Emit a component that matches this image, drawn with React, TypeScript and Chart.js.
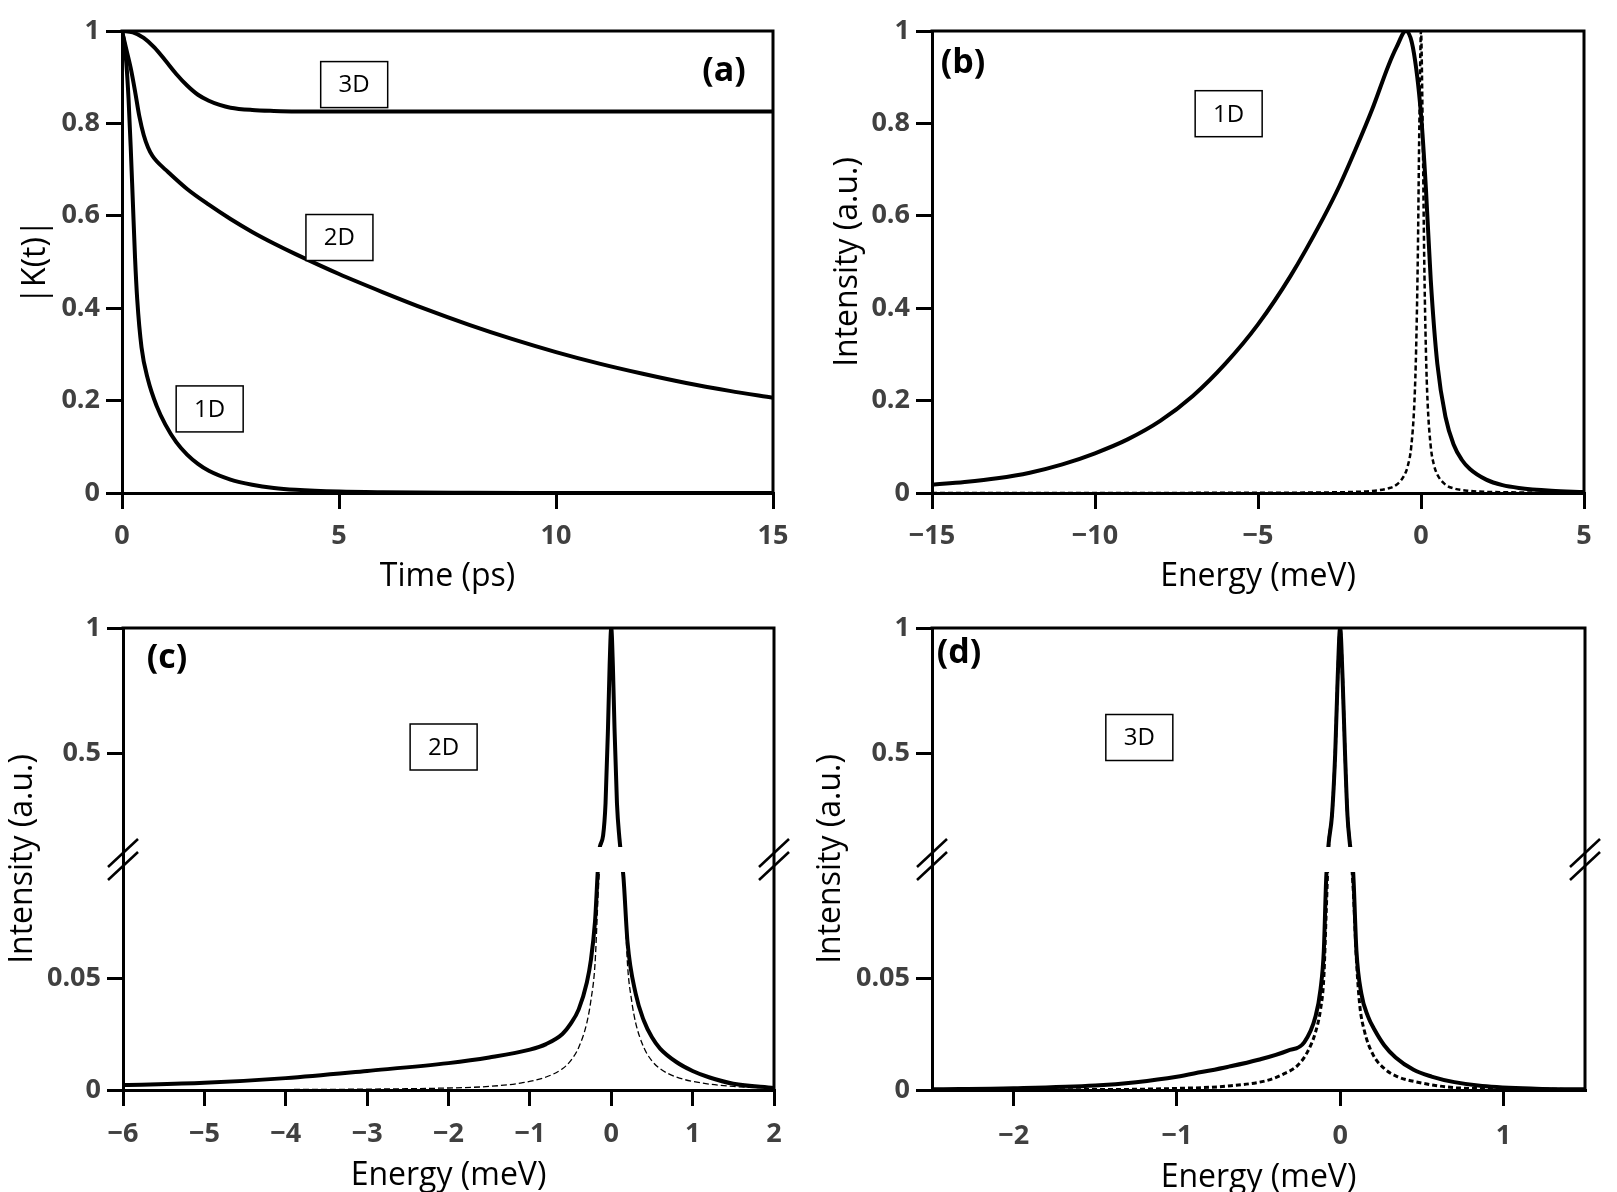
import React, { useEffect, useRef } from 'react';
import { Chart, registerables, LinearScale } from 'chart.js';

Chart.register(...registerables);

// ---------- (a) |K(t)| versus time ----------
const time1D = [0, 0.05, 0.1, 0.15, 0.2, 0.25, 0.3, 0.35, 0.45, 0.6, 0.8, 1.0, 1.25, 1.5, 1.75, 2.0, 2.5, 3.0, 3.5, 4.0, 5.0, 6.0, 8.0, 10.0, 15.0];
const kt1D = [1, 0.975, 0.93, 0.855, 0.75, 0.63, 0.51, 0.42, 0.315, 0.245, 0.188, 0.148, 0.11, 0.083, 0.063, 0.048, 0.029, 0.018, 0.011, 0.007, 0.003, 0.0015, 0.0005, 0.0002, 0];

const time2D = [0, 0.1, 0.2, 0.3, 0.4, 0.5, 0.6, 0.7, 0.8, 1.0, 1.5, 2.0, 2.5, 3.0, 3.5, 4.0, 5, 6, 7, 8, 9, 10, 11, 12, 13, 14, 15];
const kt2D = [1, 0.96, 0.92, 0.87, 0.815, 0.775, 0.748, 0.73, 0.718, 0.7, 0.658, 0.624, 0.593, 0.565, 0.54, 0.517, 0.474, 0.435, 0.398, 0.364, 0.333, 0.305, 0.28, 0.258, 0.238, 0.221, 0.206];

const time3D = [0, 0.25, 0.5, 0.75, 1.0, 1.25, 1.5, 1.75, 2.0, 2.25, 2.5, 3.0, 3.5, 4.0, 6, 10, 15];
const kt3D = [1, 0.997, 0.985, 0.964, 0.936, 0.907, 0.882, 0.862, 0.849, 0.84, 0.834, 0.829, 0.827, 0.826, 0.826, 0.826, 0.826];

// ---------- (b) 1D spectrum ----------
const energy1D = [-15, -14, -13, -12, -11, -10, -9, -8, -7, -6, -5, -4, -3, -2.5, -2, -1.5, -1.0, -0.75, -0.46, -0.25, 0, 0.15, 0.3, 0.5, 0.75, 1.0, 1.25, 1.5, 2.0, 2.5, 3.0, 4.0, 5.0];
const intensity1D = [0.018, 0.024, 0.032, 0.044, 0.062, 0.086, 0.116, 0.156, 0.21, 0.28, 0.365, 0.47, 0.595, 0.665, 0.745, 0.83, 0.925, 0.965, 1.0, 0.965, 0.82, 0.66, 0.46, 0.28, 0.165, 0.105, 0.072, 0.052, 0.029, 0.017, 0.011, 0.005, 0.002];
const energyZpl1D = [-15, -5, -3, -2, -1.5, -1, -0.75, -0.5, -0.4, -0.3, -0.2, -0.15, -0.1, -0.05, 0, 0.05, 0.1, 0.15, 0.2, 0.3, 0.4, 0.5, 0.75, 1, 1.5, 2, 3, 5];
const intensityZpl1D = [0, 0.0005, 0.0012, 0.0025, 0.0045, 0.01, 0.018, 0.04, 0.06, 0.1, 0.2, 0.31, 0.5, 0.8, 1, 0.8, 0.5, 0.31, 0.2, 0.1, 0.06, 0.04, 0.018, 0.01, 0.0045, 0.0025, 0.0012, 0];

// ---------- (c) 2D spectrum ----------
const energy2D = [-6, -5, -4, -3, -2, -1.5, -1, -0.8, -0.6, -0.5, -0.4, -0.3, -0.25, -0.2, -0.15, -0.1, -0.07, -0.04, -0.02, 0, 0.02, 0.04, 0.07, 0.1, 0.15, 0.2, 0.3, 0.4, 0.5, 0.6, 0.8, 1.0, 1.2, 1.5, 2.0];
const intensity2D = [0.0022, 0.0032, 0.0053, 0.0085, 0.012, 0.0145, 0.018, 0.0205, 0.025, 0.0295, 0.036, 0.048, 0.058, 0.075, 0.103, 0.17, 0.3, 0.6, 0.85, 1, 0.85, 0.6, 0.3, 0.16, 0.095, 0.066, 0.043, 0.031, 0.0235, 0.0185, 0.0125, 0.0085, 0.0057, 0.0028, 0.0009];
const energyZpl2D = [-6, -4, -3, -2, -1.5, -1.1, -0.8, -0.6, -0.5, -0.4, -0.3, -0.25, -0.2, -0.15, -0.1, -0.07, -0.04, -0.02, 0, 0.02, 0.04, 0.07, 0.1, 0.15, 0.2, 0.25, 0.3, 0.4, 0.5, 0.6, 0.8, 1.1, 1.5, 2, 3];
const intensityZpl2D = [0.0001, 0.0002, 0.0004, 0.0009, 0.0016, 0.0032, 0.0058, 0.0095, 0.013, 0.019, 0.03, 0.04, 0.056, 0.095, 0.17, 0.3, 0.6, 0.85, 1, 0.85, 0.6, 0.3, 0.17, 0.095, 0.056, 0.04, 0.03, 0.019, 0.013, 0.0095, 0.0058, 0.0032, 0.0016, 0.0009, 0.0004];

// ---------- (d) 3D spectrum ----------
const energy3D = [-2.5, -2, -1.5, -1.25, -1, -0.85, -0.69, -0.5, -0.32, -0.22, -0.15, -0.12, -0.1, -0.085, -0.07, -0.05, -0.03, -0.015, 0, 0.015, 0.03, 0.045, 0.06, 0.08, 0.1, 0.13, 0.17, 0.21, 0.27, 0.34, 0.45, 0.56, 0.7, 0.87, 1.2, 1.5];
const intensity3D = [0.0003, 0.0008, 0.002, 0.0035, 0.0059, 0.008, 0.0103, 0.0135, 0.0176, 0.0213, 0.033, 0.045, 0.062, 0.095, 0.14, 0.25, 0.5, 0.8, 1, 0.8, 0.5, 0.25, 0.135, 0.097, 0.062, 0.043, 0.033, 0.027, 0.02, 0.0145, 0.009, 0.006, 0.0035, 0.0018, 0.0006, 0.0003];
const energyZpl3D = [-2.5, -1.44, -1, -0.7, -0.44, -0.35, -0.26, -0.2, -0.15, -0.12, -0.1, -0.085, -0.07, -0.05, -0.03, -0.015, 0, 0.015, 0.03, 0.045, 0.06, 0.08, 0.1, 0.12, 0.15, 0.2, 0.27, 0.35, 0.46, 0.71, 1, 1.5];
const intensityZpl3D = [0.0001, 0.0002, 0.0007, 0.0017, 0.0044, 0.007, 0.011, 0.017, 0.026, 0.036, 0.05, 0.08, 0.13, 0.25, 0.5, 0.8, 1, 0.8, 0.5, 0.25, 0.135, 0.09, 0.058, 0.038, 0.026, 0.016, 0.0096, 0.006, 0.0037, 0.001, 0.0005, 0.0002];

// ---------- tick positions and labels ----------
const brokenYTicks = [0, 0.05, 0.5, 1];
const energyTicks3D = [-2, -1, 0, 1];

const FONT = "'Open Sans', 'DejaVu Sans', sans-serif";
const TICK_COLOR = '#404040';

// Broken intensity axis: [0, BREAK_AT] fills the lower share, [BREAK_AT, max] the upper one
const BREAK_AT = 0.1;
const LOWER_SHARE = 224 / 462;
const UPPER_START = 237 / 462;

class BrokenLinearScale extends LinearScale {
  static id = 'brokenLinear';
  static defaults = {};
  getPixelForValue(value: number) {
    if (value === null || value === undefined || Number.isNaN(value)) return NaN;
    const min = this.min;
    const max = this.max;
    let dec: number;
    if (value <= BREAK_AT) dec = ((value - min) / (BREAK_AT - min)) * LOWER_SHARE;
    else dec = UPPER_START + ((value - BREAK_AT) / (max - BREAK_AT)) * (1 - UPPER_START);
    return this.getPixelForDecimal(dec);
  }
  getValueForPixel(pixel: number) {
    const dec = this.getDecimalForPixel(pixel);
    if (dec <= LOWER_SHARE) return this.min + (dec / LOWER_SHARE) * (BREAK_AT - this.min);
    return BREAK_AT + ((dec - UPPER_START) / (1 - UPPER_START)) * (this.max - BREAK_AT);
  }
}
Chart.register(BrokenLinearScale as any);

const pts = (xs: number[], ys: number[]) => xs.map((x, i) => ({ x, y: ys[i] }));

const fmt = (v: number) => {
  const n = Number(Number(v).toFixed(3));
  return n < 0 ? '\u2212' + String(Math.abs(n)) : String(n);
};

type Box = { x: number; y: number; text: string };
type Decor = { letter: string; letterAt: [number, number]; boxes: Box[]; broken?: boolean };

function decorPlugin(d: Decor) {
  return {
    id: 'decor',
    afterDraw(chart: any) {
      const { ctx, chartArea: a, scales } = chart;
      const xs = scales.x;
      const ys = scales.y;
      ctx.save();
      let upBottom = 0;
      let lowTop = 0;
      if (d.broken) {
        upBottom = ys.getPixelForDecimal(UPPER_START);
        lowTop = ys.getPixelForValue(BREAK_AT);
        ctx.fillStyle = '#fff';
        ctx.fillRect(a.left + 2, upBottom - 6, a.right - a.left - 4, lowTop - upBottom + 12);
      }
      // closing top and right edges of the frame
      ctx.strokeStyle = '#000';
      ctx.lineWidth = 3;
      ctx.lineCap = 'square';
      ctx.beginPath();
      ctx.moveTo(a.left, a.top);
      ctx.lineTo(a.right, a.top);
      ctx.lineTo(a.right, a.bottom);
      ctx.stroke();
      if (d.broken) {
        ctx.lineWidth = 2.5;
        ctx.lineCap = 'butt';
        for (const x of [a.left, a.right]) {
          for (const y of [upBottom, lowTop]) {
            ctx.beginPath();
            ctx.moveTo(x - 15, y + 14);
            ctx.lineTo(x + 15, y - 14);
            ctx.stroke();
          }
        }
      }
      // dimension tags
      ctx.font = `24px ${FONT}`;
      ctx.textAlign = 'center';
      ctx.textBaseline = 'middle';
      for (const b of d.boxes) {
        const cx = xs.getPixelForValue(b.x);
        const cy = ys.getPixelForValue(b.y);
        const w = 67;
        const h = 46;
        ctx.fillStyle = '#fff';
        ctx.fillRect(cx - w / 2, cy - h / 2, w, h);
        ctx.lineWidth = 1.5;
        ctx.strokeStyle = '#000';
        ctx.strokeRect(cx - w / 2, cy - h / 2, w, h);
        ctx.fillStyle = '#000';
        ctx.fillText(b.text, cx, cy + 1);
      }
      // panel letter
      ctx.font = `bold 34px ${FONT}`;
      ctx.fillStyle = '#000';
      ctx.fillText(d.letter, d.letterAt[0], d.letterAt[1]);
      ctx.restore();
    },
  };
}

const gridOpts = { display: true, drawOnChartArea: false, drawTicks: true, tickLength: 16, tickWidth: 3, lineWidth: 3, tickColor: '#000', color: '#000' };
const borderOpts = { display: true, width: 3, color: '#000' };
const tickFont = { family: FONT, size: 27, weight: 'bold' as const };
const titleFont = { family: FONT, size: 32 };

type AxisSpec = {
  min: number;
  max: number;
  step?: number;
  ticks?: number[];
  size: number;
  title: string;
  titlePad: number;
  labelPad?: number;
  type?: string;
};

function xAxis(s: AxisSpec) {
  return {
    type: 'linear',
    position: 'bottom',
    min: s.min,
    max: s.max,
    afterFit: (sc: any) => { sc.height = s.size; },
    afterBuildTicks: s.ticks ? (sc: any) => { sc.ticks = s.ticks!.map((v) => ({ value: v })); } : undefined,
    ticks: { stepSize: s.step, color: TICK_COLOR, font: tickFont, padding: s.labelPad ?? 11, maxRotation: 0, autoSkip: false, callback: (v: any) => fmt(v) },
    grid: gridOpts,
    border: borderOpts,
    title: { display: true, text: s.title, color: '#000', font: titleFont, padding: { top: 0, bottom: s.titlePad } },
  };
}

function yAxis(s: AxisSpec) {
  return {
    type: s.type || 'linear',
    position: 'left',
    min: s.min,
    max: s.max,
    afterFit: (sc: any) => { sc.width = s.size; },
    afterBuildTicks: s.ticks ? (sc: any) => { sc.ticks = s.ticks!.map((v) => ({ value: v })); } : undefined,
    ticks: { stepSize: s.step, color: TICK_COLOR, font: tickFont, padding: 6, autoSkip: false, callback: (v: any) => fmt(v) },
    grid: gridOpts,
    border: borderOpts,
    title: { display: true, text: s.title, color: '#000', font: titleFont, padding: { top: s.titlePad, bottom: 0 } },
  };
}

const solid = (data: { x: number; y: number }[]) => ({
  data,
  borderColor: '#000',
  borderWidth: 4,
  pointRadius: 0,
  fill: false,
  cubicInterpolationMode: 'monotone' as const,
});

const dashed = (data: { x: number; y: number }[], width: number, dash: number[]) => ({
  data,
  borderColor: '#000',
  borderWidth: width,
  borderDash: dash,
  pointRadius: 0,
  fill: false,
  cubicInterpolationMode: 'monotone' as const,
});

function baseOptions(padding: any, x: any, y: any) {
  return {
    responsive: false,
    animation: false,
    devicePixelRatio: 1,
    layout: { padding },
    plugins: { legend: { display: false }, tooltip: { enabled: false } },
    events: [],
    scales: { x, y },
  };
}

const makeA = () => ({
  type: 'line',
  data: {
    datasets: [
      solid(pts(time3D, kt3D)),
      solid(pts(time2D, kt2D)),
      solid(pts(time1D, kt1D)),
    ],
  },
  options: baseOptions(
    { left: 0, top: 31, right: 27, bottom: 0 },
    xAxis({ min: 0, max: 15, step: 5, size: 107, title: 'Time (ps)', titlePad: 4 }),
    yAxis({ min: 0, max: 1, step: 0.2, size: 122, title: '|K(t)|', titlePad: 17 }),
  ),
  plugins: [decorPlugin({
    letter: '(a)',
    letterAt: [724, 71],
    boxes: [
      { x: 5.35, y: 0.884, text: '3D' },
      { x: 5.01, y: 0.553, text: '2D' },
      { x: 2.02, y: 0.182, text: '1D' },
    ],
  })],
});

const makeB = () => ({
  type: 'line',
  data: {
    datasets: [
      dashed(pts(energyZpl1D, intensityZpl1D), 2.5, [5, 3]),
      solid(pts(energy1D, intensity1D)),
    ],
  },
  options: baseOptions(
    { left: 0, top: 31, right: 33, bottom: 0 },
    xAxis({ min: -15, max: 5, step: 5, size: 107, title: 'Energy (meV)', titlePad: 4 }),
    yAxis({ min: 0, max: 1, step: 0.2, size: 132, title: 'Intensity (a.u.)', titlePad: 29 }),
  ),
  plugins: [decorPlugin({
    letter: '(b)',
    letterAt: [163, 63],
    boxes: [{ x: -5.9, y: 0.821, text: '1D' }],
  })],
});

const makeC = () => ({
  type: 'line',
  data: {
    datasets: [
      dashed(pts(energyZpl2D, intensityZpl2D), 1.3, [6, 3]),
      solid(pts(energy2D, intensity2D)),
    ],
  },
  options: baseOptions(
    { left: 0, top: 28, right: 26, bottom: 0 },
    xAxis({ min: -6, max: 2, step: 1, size: 110, title: 'Energy (meV)', titlePad: 5, labelPad: 12 }),
    yAxis({ min: 0, max: 1, ticks: brokenYTicks, size: 123, title: 'Intensity (a.u.)', titlePad: 4, type: 'brokenLinear' }),
  ),
  plugins: [decorPlugin({
    letter: '(c)',
    letterAt: [167, 58],
    boxes: [{ x: -2.06, y: 0.524, text: '2D' }],
    broken: true,
  })],
});

const makeD = () => ({
  type: 'line',
  data: {
    datasets: [
      dashed(pts(energyZpl3D, intensityZpl3D), 3, [5, 3]),
      solid(pts(energy3D, intensity3D)),
    ],
  },
  options: baseOptions(
    { left: 0, top: 28, right: 32, bottom: 0 },
    xAxis({ min: -2.5, max: 1.5, ticks: energyTicks3D, size: 110, title: 'Energy (meV)', titlePad: 3, labelPad: 14 }),
    yAxis({ min: 0, max: 1, ticks: brokenYTicks, size: 132, title: 'Intensity (a.u.)', titlePad: 12, type: 'brokenLinear' }),
  ),
  plugins: [decorPlugin({
    letter: '(d)',
    letterAt: [159, 53],
    boxes: [{ x: -1.23, y: 0.562, text: '3D' }],
    broken: true,
  })],
});

function ChartPanel(props: { make: () => any; left: number; top: number; width: number; height: number }) {
  const ref = useRef<HTMLCanvasElement>(null);
  useEffect(() => {
    const chart = new Chart(ref.current as HTMLCanvasElement, props.make());
    return () => chart.destroy();
  }, []);
  const { left, top, width, height } = props;
  return (
    <canvas
      ref={ref}
      width={width}
      height={height}
      style={{ position: 'absolute', left, top, width, height, display: 'block' }}
    />
  );
}

export default function App() {
  return (
    <div style={{ position: 'absolute', left: 0, top: 0, width: 1617, height: 1192, background: '#fff', overflow: 'hidden' }}>
      <ChartPanel make={makeA} left={0} top={0} width={800} height={600} />
      <ChartPanel make={makeB} left={800} top={0} width={817} height={600} />
      <ChartPanel make={makeC} left={0} top={600} width={800} height={600} />
      <ChartPanel make={makeD} left={800} top={600} width={817} height={600} />
    </div>
  );
}
